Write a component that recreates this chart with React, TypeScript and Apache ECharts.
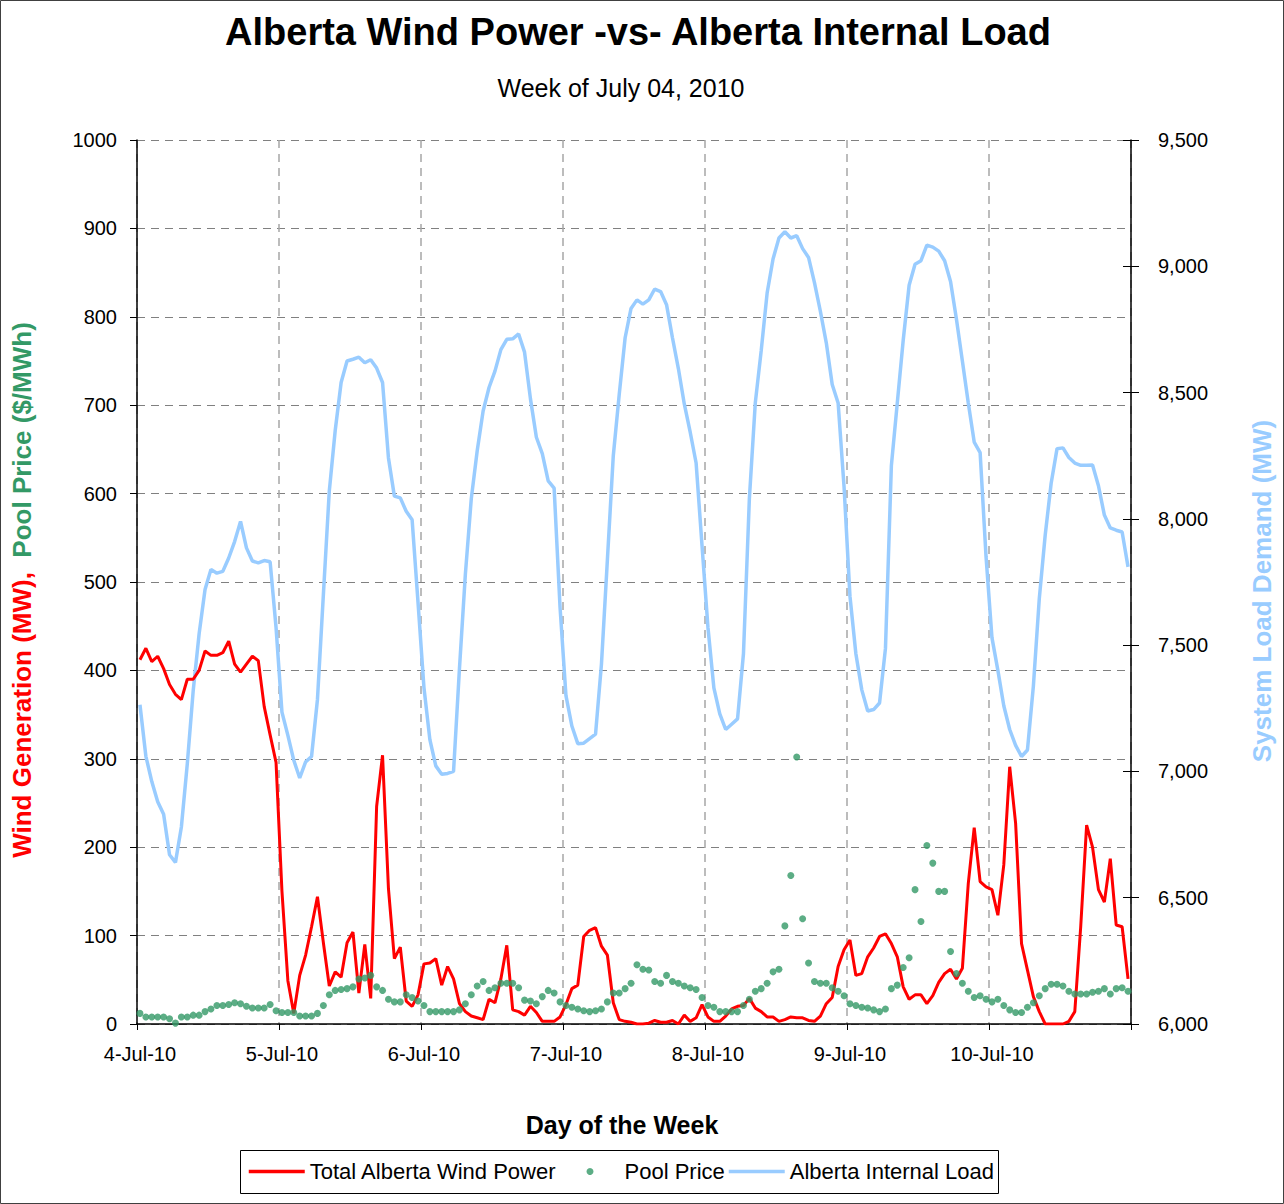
import React, { useEffect, useRef } from 'react';
import * as echarts from 'echarts';

const FONT = "'Liberation Sans', Arial, Helvetica, sans-serif";

// Day labels shown on the category axis (one label every 24 hourly categories)
const days = ['4-Jul-10', '5-Jul-10', '6-Jul-10', '7-Jul-10', '8-Jul-10', '9-Jul-10', '10-Jul-10'];
const hourLabels = [
  '00:00', '01:00', '02:00', '03:00', '04:00', '05:00', '06:00', '07:00',
  '08:00', '09:00', '10:00', '11:00', '12:00', '13:00', '14:00', '15:00',
  '16:00', '17:00', '18:00', '19:00', '20:00', '21:00', '22:00', '23:00',
];

// Total Alberta Wind Power (MW), hourly
const windPower = [
  412, 425, 410, 416, 402, 384, 373, 367, 390, 390, 400, 422, 417, 417, 420, 433, 407, 398, 407, 416, 411, 359, 327, 296,
  150, 49, 12, 55, 78, 110, 144, 92, 43, 59, 53, 92, 104, 35, 90, 29, 246, 304, 153, 74, 87, 26, 20, 33,
  68, 69, 74, 44, 65, 51, 23, 14, 9, 7, 5, 28, 24, 51, 89, 16, 14, 10, 20, 13, 3, 3, 3, 8,
  22, 40, 44, 99, 106, 109, 88, 78, 24, 5, 3, 2, 0, 0, 1, 4, 2, 2, 4, 0, 10, 3, 7, 22,
  8, 3, 3, 9, 17, 20, 21, 29, 18, 14, 8, 8, 3, 5, 8, 7, 7, 4, 3, 9, 23, 30, 65, 84,
  95, 55, 57, 76, 86, 99, 102, 91, 76, 42, 28, 33, 33, 23, 32, 47, 57, 62, 51, 63, 159, 222, 161, 155,
  152, 123, 180, 291, 227, 91, 61, 31, 14, 0, 0, 0, 0, 3, 14, 110, 225, 200, 152, 138, 187, 112, 110, 51,
];

// Pool Price ($/MWh), hourly
const poolPrice = [
  12, 8, 8, 8, 8, 6, 1, 8, 8, 10, 10, 14, 17, 21, 21, 22, 24, 23, 20, 18, 18, 18, 22, 15,
  13, 13, 13, 9, 9, 9, 12, 21, 33, 38, 39, 40, 42, 51, 52, 55, 42, 38, 28, 25, 25, 33, 30, 26,
  21, 14, 14, 14, 14, 14, 16, 23, 33, 43, 48, 38, 41, 46, 46, 46, 41, 27, 26, 23, 31, 38, 35, 25,
  21, 19, 17, 15, 14, 15, 17, 25, 35, 35, 40, 46, 67, 62, 61, 48, 46, 55, 48, 46, 43, 41, 39, 30,
  21, 19, 14, 14, 14, 14, 21, 28, 37, 40, 46, 59, 62, 111, 168, 302, 119, 69, 48, 46, 46, 41, 37, 32,
  23, 21, 19, 18, 16, 14, 17, 40, 44, 64, 75, 152, 116, 202, 182, 150, 150, 82, 57, 46, 37, 30, 32, 28,
  25, 28, 21, 16, 13, 13, 19, 24, 32, 40, 45, 45, 43, 37, 34, 34, 34, 36, 37, 40, 34, 40, 41, 37,
];

// Alberta Internal Load (MW), hourly
const internalLoad = [
  7264, 7060, 6960, 6880, 6830, 6670, 6640, 6780, 7030, 7320, 7545, 7720, 7800, 7785, 7792, 7845, 7910, 7990, 7885, 7833, 7826, 7835, 7830, 7570,
  7235, 7143, 7044, 6974, 7038, 7059, 7285, 7700, 8110, 8350, 8540, 8625, 8632, 8640, 8618, 8630, 8597, 8540, 8241, 8090, 8083, 8030, 7996, 7668,
  7332, 7126, 7022, 6989, 6992, 7000, 7407, 7781, 8080, 8270, 8427, 8520, 8585, 8670, 8711, 8713, 8732, 8660, 8475, 8323, 8258, 8150, 8122, 7650,
  7300, 7180, 7110, 7112, 7130, 7148, 7425, 7837, 8250, 8492, 8717, 8833, 8867, 8850, 8867, 8910, 8900, 8848, 8717, 8595, 8455, 8343, 8221, 7893,
  7570, 7331, 7228, 7166, 7187, 7208, 7466, 8080, 8459, 8666, 8894, 9029, 9112, 9137, 9112, 9121, 9070, 9035, 8935, 8822, 8697, 8532, 8459, 8128,
  7694, 7466, 7323, 7239, 7245, 7271, 7487, 8211, 8459, 8707, 8925, 9008, 9022, 9084, 9076, 9060, 9022, 8940, 8790, 8625, 8459, 8304, 8262, 7850,
  7530, 7400, 7260, 7166, 7103, 7059, 7085, 7338, 7684, 7936, 8140, 8278, 8281, 8243, 8221, 8212, 8212, 8213, 8131, 8015, 7964, 7955, 7948, 7810,
];

const seriesNames = ['Total Alberta Wind Power', 'Pool Price', 'Alberta Internal Load'];
const categories = days.flatMap((d) => hourLabels.map((h) => `${d} ${h}`));

const legendText = { fontSize: 22, color: '#000', fontFamily: FONT, lineHeight: 23 };

export default function App() {
  const ref = useRef<HTMLDivElement>(null);

  useEffect(() => {
    if (!ref.current) return;
    const chart = echarts.init(ref.current, null, { renderer: 'svg' });
    chart.setOption({
      animation: false,
      backgroundColor: '#ffffff',
      textStyle: { fontFamily: FONT },
      title: [
        {
          text: 'Alberta Wind Power -vs- Alberta Internal Load',
          left: 633,
          textAlign: 'center',
          top: 8,
          textStyle: { fontSize: 38, fontWeight: 'bold', color: '#000', fontFamily: FONT },
        },
        {
          text: 'Week of July 04, 2010',
          left: 616,
          textAlign: 'center',
          top: 70,
          textStyle: { fontSize: 25, fontWeight: 'normal', color: '#000', fontFamily: FONT },
        },
      ],
      grid: { left: 137, right: 153, top: 140, bottom: 180, containLabel: false },
      legend: [
        {
          left: 247,
          top: 1150,
          data: [{ name: seriesNames[0], itemStyle: { opacity: 0 } }],
          itemWidth: 56,
          itemHeight: 7,
          padding: [10, 0, 10, 0],
          lineStyle: { width: 3.5 },
          textStyle: legendText,
        },
        {
          left: 586.5,
          top: 1150,
          data: [{ name: seriesNames[1], icon: 'circle' }],
          itemWidth: 7,
          itemHeight: 7,
          padding: [10, 0, 10, 0],
          textStyle: { ...legendText, padding: [0, 0, 0, 26] },
        },
        {
          left: 727,
          top: 1150,
          data: [{ name: seriesNames[2], itemStyle: { opacity: 0 } }],
          itemWidth: 56,
          itemHeight: 7,
          padding: [10, 0, 10, 0],
          lineStyle: { width: 3.5 },
          textStyle: legendText,
        },
      ],
      xAxis: {
        type: 'category',
        data: categories,
        boundaryGap: true,
        axisLine: { show: true, lineStyle: { color: '#000', width: 1.5 } },
        axisTick: { show: true, interval: 23, length: 6, lineStyle: { color: '#000' } },
        axisLabel: {
          interval: 23,
          margin: 20,
          fontSize: 20,
          color: '#000',
          fontFamily: FONT,
          formatter: (v: string) => v.split(' ')[0],
        },
        splitLine: {
          show: true,
          interval: 23,
          lineStyle: { color: '#a6a6a6', width: 1.5, type: [8, 6] },
        },
      },
      yAxis: [
        {
          type: 'value',
          min: 0,
          max: 1000,
          interval: 100,
          position: 'left',
          axisLine: { show: true, lineStyle: { color: '#000', width: 1.5 } },
          axisTick: { show: true, length: 7, lineStyle: { color: '#000' } },
          axisLabel: {
            margin: 20,
            fontSize: 20,
            color: '#000',
            fontFamily: FONT,
            formatter: (v: number) => String(v),
          },
          splitLine: { show: true, lineStyle: { color: '#808080', width: 1, type: [8, 6] } },
        },
        {
          type: 'value',
          min: 6000,
          max: 9500,
          interval: 500,
          position: 'right',
          axisLine: { show: true, lineStyle: { color: '#000', width: 1.5 } },
          axisTick: { show: true, length: 8, lineStyle: { color: '#000' } },
          axisLabel: {
            margin: 27,
            fontSize: 20,
            color: '#000',
            fontFamily: FONT,
            formatter: (v: number) => v.toLocaleString('en-US'),
          },
          splitLine: { show: false },
        },
        {
          type: 'value',
          min: 6000,
          max: 9500,
          interval: 500,
          position: 'right',
          axisLine: { show: false },
          axisTick: { show: true, inside: true, length: 8, lineStyle: { color: '#000' } },
          axisLabel: { show: false },
          splitLine: { show: false },
        },
      ],
      series: [
        {
          name: seriesNames[0],
          type: 'line',
          yAxisIndex: 0,
          data: windPower,
          symbol: 'none',
          color: '#ff0000',
          lineStyle: { color: '#ff0000', width: 3 },
          z: 4,
        },
        {
          name: seriesNames[1],
          type: 'scatter',
          yAxisIndex: 0,
          data: poolPrice,
          symbol: 'circle',
          symbolSize: 7,
          color: '#339966',
          itemStyle: { color: '#339966' },
          z: 5,
        },
        {
          name: seriesNames[2],
          type: 'line',
          yAxisIndex: 1,
          data: internalLoad,
          symbol: 'none',
          color: '#99ccff',
          lineStyle: { color: '#99ccff', width: 3.5 },
          z: 3,
        },
      ],
      graphic: [
        {
          type: 'rect',
          shape: { x: 0.5, y: 0.5, width: 1283, height: 1203 },
          style: { fill: 'none', stroke: '#404040', lineWidth: 1 },
          silent: true,
          z: -10,
        },
        {
          type: 'rect',
          shape: { x: 240.5, y: 1150.5, width: 758, height: 43 },
          style: { fill: 'none', stroke: '#000', lineWidth: 1 },
          silent: true,
        },
        {
          type: 'text',
          x: 22,
          y: 590,
          rotation: Math.PI / 2,
          style: {
            text: '{r|Wind Generation (MW),}  {g|Pool Price ($/MWh)}',
            align: 'center',
            verticalAlign: 'middle',
            font: `bold 26px ${FONT}`,
            rich: {
              r: { fill: '#ff0000', fontSize: 26, fontWeight: 'bold', fontFamily: FONT },
              g: { fill: '#339966', fontSize: 26, fontWeight: 'bold', fontFamily: FONT },
            },
          },
        },
        {
          type: 'text',
          x: 1262,
          y: 591,
          rotation: Math.PI / 2,
          style: {
            text: 'System Load Demand (MW)',
            align: 'center',
            verticalAlign: 'middle',
            fill: '#99ccff',
            font: `bold 26px ${FONT}`,
          },
        },
        {
          type: 'text',
          x: 622,
          y: 1125,
          style: {
            text: 'Day of the Week',
            align: 'center',
            verticalAlign: 'middle',
            fill: '#000',
            font: `bold 25px ${FONT}`,
          },
        },
      ],
    });
    return () => chart.dispose();
  }, []);

  return (
    <div
      ref={ref}
      style={{ position: 'absolute', left: 0, top: 0, width: 1284, height: 1204, background: '#fff' }}
    />
  );
}
